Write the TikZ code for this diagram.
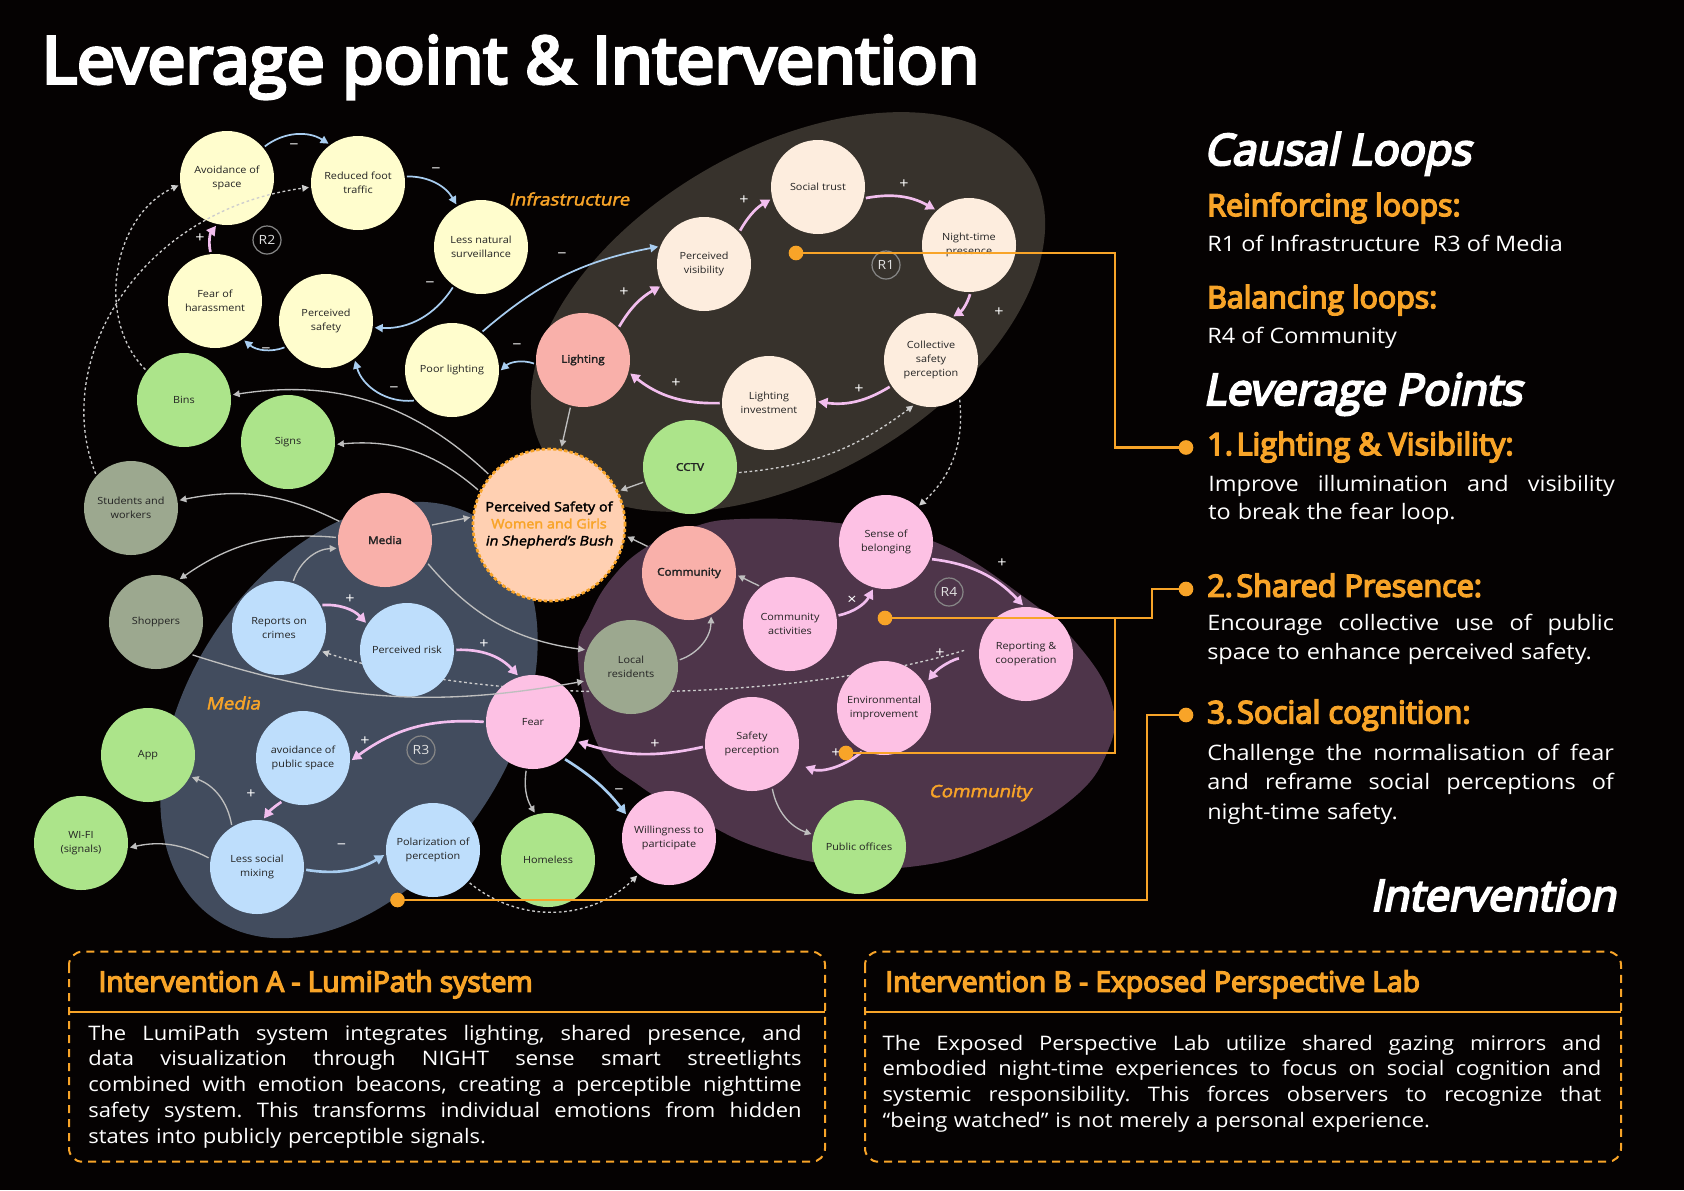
\documentclass[tikz,border=0pt]{standalone}
\usepackage{fontspec}
\setmainfont{Open Sans}[FakeStretch=1.1, AutoFakeBold=2.5, AutoFakeSlant=0.2]
\newfontfamily\heavyfont{Open Sans}[AutoFakeBold=5, AutoFakeSlant=0.2]
\usepackage{graphicx}
\usetikzlibrary{arrows.meta}

\definecolor{bgc}{RGB}{5,2,2}
\definecolor{yel}{RGB}{255,253,205}
\definecolor{peach}{RGB}{253,237,222}
\definecolor{salmon}{RGB}{249,176,170}
\definecolor{grn}{RGB}{172,228,138}
\definecolor{sage}{RGB}{156,168,143}
\definecolor{lblue}{RGB}{190,222,252}
\definecolor{pnk}{RGB}{253,193,228}
\definecolor{ctr}{RGB}{255,208,178}
\definecolor{org}{RGB}{248,164,40}
\definecolor{infra}{RGB}{55,50,44}
\definecolor{commc}{RGB}{78,53,74}
\definecolor{mediac}{RGB}{66,76,94}
\definecolor{parr}{RGB}{242,190,238}
\definecolor{barr}{RGB}{168,205,240}
\definecolor{garr}{RGB}{190,190,190}
\definecolor{darr}{RGB}{205,205,205}
\definecolor{ntext}{RGB}{35,35,35}
\definecolor{rlc}{RGB}{135,135,135}
\definecolor{rtext}{RGB}{225,225,225}

\pgfdeclarelayer{bg}
\pgfdeclarelayer{edges}
\pgfdeclarelayer{over}
\pgfdeclarelayer{front}
\pgfsetlayers{bg,edges,main,over,front}

\newcommand\lab{\fontsize{7.4}{10.5}\selectfont}
\newcommand\labb{\fontsize{8}{10.5}\selectfont\bfseries}
\newcommand\jl[2]{\makebox[#1][s]{\spaceskip=0pt\xspaceskip=0pt\relax #2}}

\tikzset{
 cn/.style={circle, minimum size=70.5pt, inner sep=0pt, align=center, text=ntext, font=\lab},
 bn/.style={cn, font=\labb},
 ctrn/.style={circle, minimum size=114pt, inner sep=0pt, fill=ctr, draw=org, line width=2pt,
   dash pattern=on 2.6pt off 1.6pt, align=center, text=black, font=\fontsize{9.8}{12.75}\selectfont\bfseries},
 rl/.style={circle, draw=rlc, line width=0.9pt, minimum size=21pt, inner sep=0pt, text=rtext, font=\fontsize{9.5}{10}\selectfont},
 sg/.style={text=white, font=\fontsize{11}{11}\selectfont, inner sep=0pt},
 reg/.style={text=org, font=\fontsize{12.8}{14}\selectfont\bfseries\itshape, inner sep=0pt},
 arrbase/.style={shorten <=1.5pt, shorten >=1.5pt},
 pa/.style={arrbase, draw=parr, line width=2pt, -{Triangle[length=7pt,width=7.5pt]}},
 ba/.style={arrbase, draw=barr, line width=1.3pt, -{Triangle[length=6pt,width=6pt]}},
 bat/.style={ba, line width=2pt, -{Triangle[length=7pt,width=7.5pt]}},
 ga/.style={arrbase, draw=garr, line width=1pt, -{Triangle[length=5pt,width=5pt]}},
 da/.style={arrbase, draw=darr, line width=1pt, dash pattern=on 2pt off 2pt, -{Triangle[length=5pt,width=5pt]}},
 sl/.style={bend left=#1}, sr/.style={bend right=#1},
 odot/.style={circle, fill=org, minimum size=11pt, inner sep=0pt},
 oline/.style={draw=org, line width=2.2pt},
 txt/.style={anchor=base west, inner sep=0pt, text=white},
}

\begin{document}
\begin{tikzpicture}[x=0.75pt,y=-0.75pt]
\useasboundingbox (0,0) rectangle (1684,1190);
\begin{pgfonlayer}{bg}
\fill[bgc] (0,0) rectangle (1684,1190);
\fill[infra, rotate around={30:(788,312)}] (788,312) ellipse [x radius=211pt, y radius=123pt];
\fill[commc] plot[smooth cycle, tension=0.7] coordinates {(578,657) (590,615) (612,578) (645,548) (690,528) (740,519) (838,523) (935,542) (1024,597) (1078,645) (1112,703) (1106,755) (1067,803) (990,846) (917,866) (840,866) (760,848) (700,820) (640,786) (598,745)};
\fill[mediac, rotate around={56:(349,720)}] (349,720) ellipse [x radius=180pt, y radius=120pt];
\end{pgfonlayer}

% ---------- nodes ----------
\node[cn, fill=yel] (avsp) at (227,178) {Avoidance of\\space};
\node[cn, fill=yel] (rft) at (358,183) {Reduced foot\\traffic};
\node[cn, fill=yel] (lns) at (481,247) {Less natural\\surveillance};
\node[cn, fill=yel] (ps) at (326,321) {Perceived\\safety};
\node[cn, fill=yel] (foh) at (215,301) {Fear of\\harassment};
\node[cn, fill=yel] (pl) at (452,370) {Poor lighting};
\node[bn, fill=salmon] (light) at (583,360) {Lighting};
\node[cn, fill=peach] (pv) at (704,264) {Perceived\\visibility};
\node[cn, fill=peach] (st) at (818,187) {Social trust};
\node[cn, fill=peach] (ntp) at (969,245) {Night-time\\presence};
\node[cn, fill=peach] (csp) at (931,360) {Collective\\safety\\perception};
\node[cn, fill=peach] (li) at (769,403) {Lighting\\investment};
\node[bn, fill=grn] (cctv) at (690,467) {CCTV};
\node[cn, fill=grn] (bins) at (184,400) {Bins};
\node[cn, fill=grn] (signs) at (288,442) {Signs};
\node[ctrn] (psw) at (549,525) {Perceived Safety of\\\textcolor{org}{Women and Girls}\\\textit{in Shepherd's Bush}};
\node[bn, fill=salmon] (media) at (385,540) {Media};
\node[cn, fill=sage] (stud) at (131,508) {Students and\\workers};
\node[cn, fill=sage] (shop) at (156,622) {Shoppers};
\node[cn, fill=lblue] (roc) at (279,628) {Reports on\\crimes};
\node[cn, fill=lblue] (pr) at (407,650) {Perceived risk};
\node[cn, fill=pnk] (fear) at (533,722) {Fear};
\node[cn, fill=lblue] (aps) at (303,758) {avoidance of\\public space};
\node[cn, fill=grn] (app) at (148,755) {App};
\node[cn, fill=grn] (wifi) at (81,843) {WI-FI\\(signals)};
\node[cn, fill=lblue] (lsm) at (257,867) {Less social\\mixing};
\node[cn, fill=lblue] (pop) at (433,850) {Polarization of\\perception};
\node[cn, fill=grn] (home) at (548,860) {Homeless};
\node[bn, fill=salmon] (comm) at (689,573) {Community};
\node[cn, fill=sage] (lr) at (631,667) {Local\\residents};
\node[cn, fill=pnk] (ca) at (790,624) {Community\\activities};
\node[cn, fill=pnk] (sob) at (886,542) {Sense of\\belonging};
\node[cn, fill=pnk] (rc) at (1026,654) {Reporting \&\\cooperation};
\node[cn, fill=pnk] (ei) at (884,708) {Environmental\\improvement};
\node[cn, fill=pnk] (sp) at (752,744) {Safety\\perception};
\node[cn, fill=pnk] (wtp) at (669,838) {Willingness to\\participate};
\node[cn, fill=grn] (po) at (859,847) {Public offices};

\node[rl] (R1) at (886,265) {R1};
\node[rl] (R2) at (267,240) {R2};
\node[rl] (R3) at (421,750) {R3};
\node[rl] (R4) at (949,592) {R4};

\node[reg] (lbinf) at (569,199) {Infrastructure};
\node[reg] (lbmed) at (233,703) {Media};
\node[reg] (lbcom) at (980,793) {Community};

% ---------- edges ----------
\begin{pgfonlayer}{edges}
\draw[ba] (avsp.40) to[sl=35] (rft.126);
\draw[ba] (rft.8) to[sl=30] (lns.120);
\draw[ba] (lns.235) to[sl=30] (ps.352);
\draw[ba] (ps.213) to[sl=30] (foh.306);
\draw[pa] (foh.95) to[sl=25] (avsp.258);
\draw[ba] (pl.220) to[sl=40] (ps.307);
\draw[ba] (light.185) to[sr=30] (pl.358);
\draw[ba] (pl.52) to[sl=15] (pv.158);
\draw[pa] (light.42) to[sl=15] (pv.207);
\draw[pa] (pv.42) to[sl=15] (st.194);
\draw[pa] (st.346) to[sl=20] (ntp.133);
\draw[pa] (ntp.272) to[sl=20] (csp.64);
\draw[pa] (csp.213) to[sl=20] (li.2);
\draw[pa] (li.180) to[sl=20] (light.345);
\draw[ga] (light.255) -- (psw.81);
\draw[ga] (cctv.198) -- (psw.26);
\draw[ga] (comm.147) -- (psw.352);
\draw[ga] (media.18) -- (psw.174);
\draw[ga] (psw.140) to[sr=26] (bins.6);
\draw[ga] (psw.154) to[sr=23] (signs.357);
\draw[ga] (media.158) to[sr=19] (stud.9);
\draw[ga] (media.177) to[sr=20] (shop.62);
\draw[ga] (roc.73) to[sl=35] (media.190);
\draw[ga] (media.332) to[sr=21] (lr.159);
\draw[ga] (lr.8) to[sr=35] (comm.298);
\draw[ga] (ca.128) -- (comm.358);
\draw[ga] (fear.262) to[sr=20] (home.105);
\draw[ga] (lsm.122) to[sr=30] (app.333);
\draw[ga] (lsm.170) to[sr=20] (wifi.354);
\draw[ga] (sp.295) to[sr=30] (po.165);
\draw[pa] (roc.29) to[sl=25] (pr.147);
\draw[pa] (pr.0) to[sl=25] (fear.107);
\draw[pa] (fear.180) to[sr=20] (aps.356);
\draw[pa] (aps.245) to[sr=10] (lsm.83);
\draw[bat] (lsm.357) to[sr=20] (pop.185);
\draw[bat] (fear.310) to[sl=10] (wtp.152);
\draw[pa] (sp.183) to[sl=15] (fear.336);
\draw[pa] (ca.10) to[sr=25] (sob.255);
\draw[pa] (sob.339) to[sl=20] (rc.92);
\draw[pa, shorten <=15pt, shorten >=4pt] (rc.185) to[sr=25] (ei.30);
\draw[pa, shorten >=8pt] (ei.244) to[sl=30] (sp.336);
\draw[da] (bins.142) to[sl=55] (avsp.188);
\draw[da] (cctv.353) to[sr=16] (csp.250);
\draw[da] (csp.307) to[sl=27] (sob.48);
\draw[da, shorten <=12pt] (rc.170) .. controls (800,700) and (500,710) .. (roc.331);
\draw[da] (pop.318) to[sr=42] (wtp.230);
\end{pgfonlayer}
\begin{pgfonlayer}{over}
\draw[da] (stud.137) .. controls (50,360) and (140,210) .. (rft.185);
\draw[ga] (shop.317) to[sr=14] (lr.197);
\end{pgfonlayer}

% ---------- signs ----------
\node[sg] (s1) at (294,147) {−};
\node[sg] (s2) at (436,171) {−};
\node[sg] (s3) at (430,285) {−};
\node[sg] (s4) at (266,351) {−};
\node[sg] (s5) at (200,238) {+};
\node[sg] (s6) at (394,390) {−};
\node[sg] (s7) at (517,347) {−};
\node[sg] (s8) at (562,256) {−};
\node[sg] (s9) at (624,292) {+};
\node[sg] (s10) at (744,200) {+};
\node[sg] (s11) at (904,184) {+};
\node[sg] (s12) at (999,312) {+};
\node[sg] (s13) at (859,389) {+};
\node[sg] (s14) at (676,383) {+};
\node[sg] (s15) at (350,599) {+};
\node[sg] (s16) at (484,644) {+};
\node[sg] (s17) at (365,741) {+};
\node[sg] (s18) at (251,794) {+};
\node[sg] (s19) at (341.5,847) {−};
\node[sg] (s20) at (619,792) {−};
\node[sg] (s21) at (655,744) {+};
\node[sg] (s22) at (852,600) {×};
\node[sg] (s23) at (1002,563) {+};
\node[sg] (s24) at (940,653) {+};
\node[sg] (s25) at (836,753) {+};

% ---------- leverage connectors ----------
\begin{pgfonlayer}{front}
\node[odot] (d1) at (796,253) {};
\node[odot] (d2) at (885,618) {};
\node[odot] (d3) at (846,753) {};
\node[odot] (d4) at (397.5,900) {};
\node[odot] (r1) at (1186,447.5) {};
\node[odot] (r2) at (1186,589) {};
\node[odot] (r3) at (1186,715) {};
\coordinate (j2) at (1115,618);
\end{pgfonlayer}
\begin{pgfonlayer}{over}
\draw[oline] (d1.center) -- (1115,253) -- (1115,447.5) -- (r1.center);
\draw[oline] (d2.center) -- (1152,618) -- (1152,589) -- (r2.center);
\draw[oline] (j2) -- (1115,753) -- (d3.center);
\draw[oline] (d4.center) -- (1147,900) -- (1147,715) -- (r3.center);
\end{pgfonlayer}

% ---------- title and right panel ----------
\node[txt] (title) at (41.5,83.3) {\resizebox{703pt}{35.9pt}{\heavyfont\bfseries Leverage point \& Intervention}};
\begin{scope}[shift={(1204,165)}, xslant=0.2]
\node[txt, transform shape] (hcl) at (0,0) {\resizebox{200pt}{!}{\heavyfont\bfseries Causal Loops}};
\end{scope}
\node[txt, text=org] (hrl) at (1207,216) {\resizebox{190pt}{!}{\heavyfont\bfseries Reinforcing loops:}};
\node[txt, font=\fontsize{16}{20}\selectfont] (trl) at (1207,251.7) {R1 of Infrastructure\hspace{0.6em}R3 of Media};
\node[txt, text=org] (hbl) at (1207,308) {\resizebox{172.5pt}{!}{\heavyfont\bfseries Balancing loops:}};
\node[txt, font=\fontsize{16}{20}\selectfont] (tbl) at (1207,343) {R4 of Community};
\begin{scope}[shift={(1203,405)}, xslant=0.2]
\node[txt, transform shape] (hlp) at (0,0) {\resizebox{239pt}{!}{\heavyfont\bfseries Leverage Points}};
\end{scope}
\node[txt, text=org] (h1) at (1207,455) {\resizebox{229.7pt}{!}{\heavyfont\bfseries 1.\hspace{0.12em}Lighting \& Visibility:}};
\node[txt, text width=310pt, align=left, font=\fontsize{16}{21.2}\selectfont] (t1) at (1208,491.7)
  {\jl{305pt}{Improve illumination and visibility}\\to break the fear loop.};
\node[txt, text=org] (h2) at (1207,596.7) {\resizebox{206pt}{!}{\heavyfont\bfseries 2.\hspace{0.12em}Shared Presence:}};
\node[txt, text width=310pt, align=left, font=\fontsize{16}{22}\selectfont] (t2) at (1207,630)
  {\jl{305pt}{Encourage collective use of public}\\space to enhance perceived safety.};
\node[txt, text=org] (h3) at (1207,723.3) {\resizebox{197.5pt}{!}{\heavyfont\bfseries 3.\hspace{0.12em}Social cognition:}};
\node[txt, text width=310pt, align=left, font=\fontsize{16}{22.2}\selectfont] (t3) at (1207,760)
  {\jl{305pt}{Challenge the normalisation of fear}\\\jl{305pt}{and reframe social perceptions of}\\night-time safety.};
\begin{scope}[shift={(1616,910.7)}, xslant=0.2]
\node[txt, anchor=base east, transform shape] (hint) at (0,0) {\resizebox{184pt}{!}{\heavyfont\bfseries Intervention}};
\end{scope}

% ---------- intervention boxes ----------
\draw[org, line width=1.5pt, dash pattern=on 6pt off 4.5pt, rounded corners=10pt] (69,951.7) rectangle (825,1161.7);
\draw[org, line width=1.5pt] (69,1011.7) -- (825,1011.7);
\draw[org, line width=1.5pt, dash pattern=on 6pt off 4.5pt, rounded corners=10pt] (865,951.7) rectangle (1621,1161.7);
\draw[org, line width=1.5pt] (865,1011.7) -- (1621,1011.7);
\node[txt, text=org] (ta) at (98.3,991.7) {\resizebox{325.5pt}{!}{\heavyfont\bfseries Intervention A - LumiPath system}};
\node[txt, text=org] (tb) at (885,991.7) {\resizebox{401pt}{!}{\heavyfont\bfseries Intervention B - Exposed Perspective Lab}};
\node[txt, text width=540pt, align=left, font=\fontsize{15}{19.35}\selectfont\frenchspacing] (bodya) at (88,1040)
  {\jl{535pt}{The LumiPath system integrates lighting, shared presence, and}\\
   \jl{535pt}{data visualization through NIGHT sense smart streetlights}\\
   \jl{535pt}{combined with emotion beacons, creating a perceptible nighttime}\\
   \jl{535pt}{safety system. This transforms individual emotions from hidden}\\
   states into publicly perceptible signals.};
\node[txt, text width=545pt, align=left, font=\fontsize{15}{19.3}\selectfont\frenchspacing] (bodyb) at (882.4,1050)
  {\jl{539pt}{The Exposed Perspective Lab utilize shared gazing mirrors and}\\
   \jl{539pt}{embodied night-time experiences to focus on social cognition and}\\
   \jl{539pt}{systemic responsibility. This forces observers to recognize that}\\
   “being watched” is not merely a personal experience.};
\end{tikzpicture}
\end{document}
